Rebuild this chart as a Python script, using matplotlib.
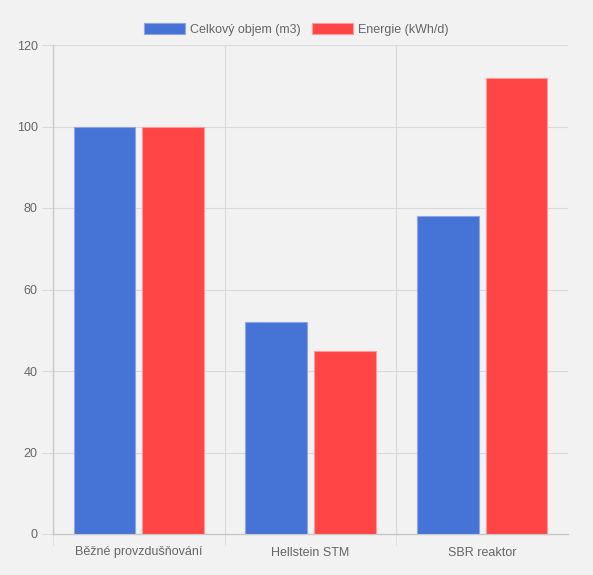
import matplotlib.pyplot as plt
import numpy as np

categories = ["Běžné provzdušňování", "Hellstein STM", "SBR reaktor"]
series_names = ["Celkový objem (m3)", "Energie (kWh/d)"]
objem = [100, 52, 78]
energie = [100, 45, 112]
y_ticks = [0, 20, 40, 60, 80, 100, 120]

BG = "#f2f2f2"
BLUE = "#4674d6"
RED = "#ff4545"
GRID = "#d9d9d9"
TXT = "#666666"

plt.rcParams["font.family"] = ["Liberation Sans", "DejaVu Sans"]

fig = plt.figure(figsize=(5.93, 5.75), dpi=100, facecolor=BG)
ax = fig.add_axes([53 / 593, 41 / 575, 515 / 593, 489 / 575], facecolor=BG)

x = np.arange(len(categories))
w = 0.36
ax.bar(x - 0.2, objem, w, color=BLUE, edgecolor="#8ea6e4", linewidth=0.8,
       label=series_names[0], zorder=3)
ax.bar(x + 0.2, energie, w, color=RED, edgecolor="#ff9a9a", linewidth=0.8,
       label=series_names[1], zorder=3)

ax.set_xlim(-0.5, len(categories) - 0.5)
ax.set_ylim(0, 120)
ax.set_yticks(y_ticks)
ax.set_xticks(x)
ax.set_xticklabels(categories)
# category borders, without one at the right edge
ax.set_xticks(np.arange(len(categories)) - 0.5, minor=True)

ax.grid(axis="y", color=GRID, lw=0.8, zorder=0)
ax.grid(axis="x", which="minor", color=GRID, lw=0.8, zorder=0)

for s in ["top", "right"]:
    ax.spines[s].set_visible(False)
for s in ["left", "bottom"]:
    ax.spines[s].set_color("#c8c8c8")
    ax.spines[s].set_linewidth(1.0)

ax.tick_params(axis="y", length=8, color=GRID, labelcolor=TXT, labelsize=9, pad=3)
ax.tick_params(axis="x", which="major", length=0, labelcolor=TXT, labelsize=9, pad=9)
ax.tick_params(axis="x", which="minor", length=8, color=GRID)

fig.legend(loc="upper center", bbox_to_anchor=(0.5, 0.979), ncol=2, frameon=False,
           fontsize=9, labelcolor=TXT, handlelength=3.3, handleheight=0.9,
           handletextpad=0.4, columnspacing=0.9)

fig.savefig("out.png", dpi=100, facecolor=BG)
